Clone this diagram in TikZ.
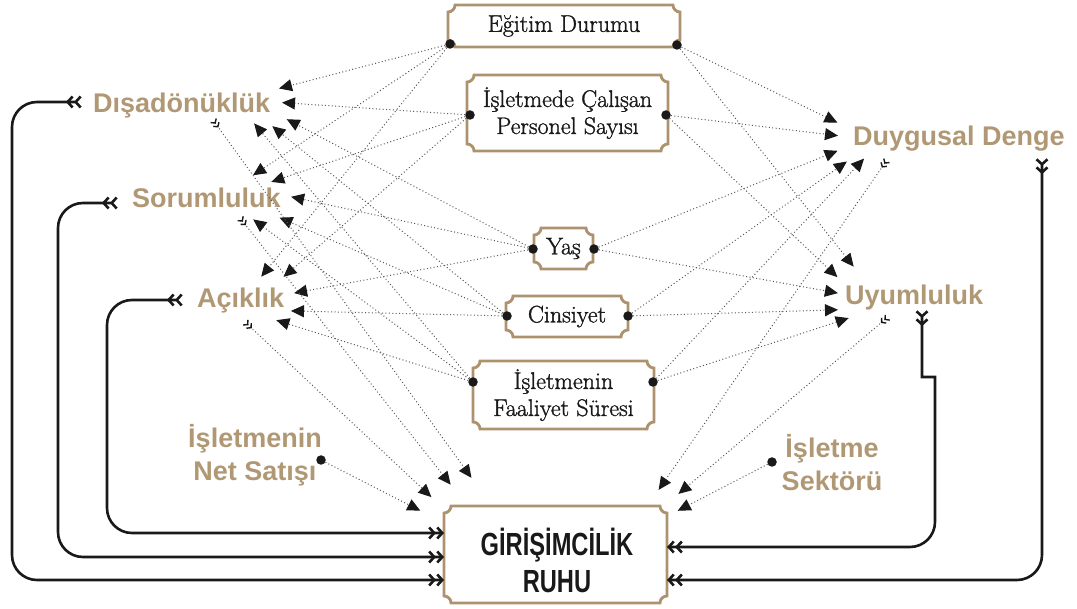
\documentclass[tikz,border=0pt]{standalone}
\usepackage{fontspec}
\newfontfamily\lsans{Liberation Sans}
\newfontfamily\grfont[FakeStretch=0.74]{Liberation Sans}
\newfontfamily\boxfont[FakeBold=1.3]{Latin Modern Roman}
\usetikzlibrary{arrows.meta,calc}
\definecolor{tan}{RGB}{177,152,117}
\definecolor{tanframe}{RGB}{172,146,110}
\definecolor{ink}{RGB}{25,25,25}
\newcommand\scrollframe[1]{%
  \draw[frame] ([yshift=-7pt]#1.north west) arc[start angle=270,end angle=360,radius=7pt]
    -- ([xshift=-7pt]#1.north east) arc[start angle=180,end angle=270,radius=7pt]
    -- ([yshift=7pt]#1.south east) arc[start angle=90,end angle=180,radius=7pt]
    -- ([xshift=7pt]#1.south west) arc[start angle=0,end angle=90,radius=7pt] -- cycle;}
\begin{document}
\begin{tikzpicture}[x=1pt,y=-1pt,
  box/.style={inner sep=0pt, align=center, font=\boxfont\fontsize{24}{27}\selectfont, text=ink},
  frame/.style={draw=tanframe, line width=2.8pt},
  trait/.style={font=\lsans\bfseries\fontsize{27}{33}\selectfont, text=tan, inner sep=0pt, anchor=base west},
  ctrl/.style={font=\lsans\bfseries\fontsize{27}{33}\selectfont, text=tan, inner sep=0pt, align=center},
  dot/.style={circle, fill=ink, inner sep=0pt, minimum size=9.5pt},
  dotarr/.style={draw=black!65, line width=1pt, dash pattern=on 1pt off 2.4pt,
     -{Triangle[length=13pt,width=12pt,color=ink]}},
  tailarr/.style={draw=black!65, line width=1pt, dash pattern=on 1pt off 2.4pt,
     {Straight Barb[reversed,length=3pt,width=7pt,line width=1.4pt,color=ink] Straight Barb[reversed,length=3pt,width=7pt,line width=1.4pt,color=ink]}-{Triangle[length=13pt,width=12pt,color=ink]}},
  solidarr/.style={draw=ink, line width=2.6pt, rounded corners=25pt,
     {Straight Barb[reversed,length=5pt,width=11pt] Straight Barb[reversed,length=5pt,width=11pt]}-{Straight Barb[length=5pt,width=11pt] Straight Barb[length=5pt,width=11pt]}}
]
\useasboundingbox (0,0) rectangle (1077,609);

% boxes
\node[box, minimum width=231.6pt, minimum height=41.6pt] (edu) at (564,26) {Eğitim Durumu};
\node[box, minimum width=200.6pt, minimum height=75.6pt] (per) at (567.5,113) {İşletmede Çalışan\\Personel Sayısı};
\node[box, minimum width=58.6pt, minimum height=40.6pt] (yas) at (563.5,248.5) {Yaş};
\node[box, minimum width=121.6pt, minimum height=40.6pt] (cin) at (567,316.5) {Cinsiyet};
\node[box, minimum width=180.6pt, minimum height=67.6pt] (faa) at (563.5,395) {İşletmenin\\Faaliyet Süresi};
\node[inner sep=0pt, minimum width=222.6pt, minimum height=96.6pt] (gr) at (555.5,554.5) {};
\node[font=\grfont\bfseries\fontsize{32}{37}\selectfont, align=center, text=ink, inner sep=0pt] (grt) at (557,560) {GİRİŞİMCİLİK\\RUHU};
\foreach \b in {edu,per,yas,cin,faa,gr} {\scrollframe{\b}}

% labels
\node[trait] (dis) at (93,113) {Dışadönüklük};
\node[trait] (sor) at (132,208) {Sorumluluk};
\node[trait] (aci) at (197,308) {Açıklık};
\node[trait] (dd) at (853,146) {Duygusal Denge};
\node[trait] (uyu) at (845,305) {Uyumluluk};
\node[ctrl] (net) at (255,455) {İşletmenin\\Net Satışı};
\node[ctrl] (sek) at (832,463) {İşletme\\Sektörü};

% dots
\node[dot] (eduL) at (450,44) {};
\node[dot] (eduR) at (677,45) {};
\node[dot] (perL) at (470,115) {};
\node[dot] (perR) at (666,115) {};
\node[dot] (yasL) at (533,249) {};
\node[dot] (yasR) at (594,249) {};
\node[dot] (cinL) at (507,316) {};
\node[dot] (cinR) at (628,316) {};
\node[dot] (faaL) at (473,382) {};
\node[dot] (faaR) at (653,382) {};
\node[dot] (netD) at (321,460) {};
\node[dot] (sekD) at (772,462) {};

% dotted arrows from demographics to traits
\foreach \s/\x/\y/\n in {
  eduL/279/88.5/d1, perL/282/102.6/d2, yasL/286.7/119.2/d3, cinL/272.3/126.2/d4, faaL/254.1/123.4/d5,
  eduL/253/175.3/s1, perL/271.3/181.9/s2, yasL/291.1/196.8/s3, cinL/279.5/217.6/s4, faaL/253.2/219.4/s5,
  eduL/261.2/276.7/a1, perL/283.5/276.9/a2, yasL/294.1/293.1/a3, cinL/291/310.9/a4, faaL/276.3/320.2/a5,
  eduR/837.4/122.6/e1, perR/838/135.7/e2, yasR/837.6/150.8/e3, cinR/846.9/161.5/e4, faaR/864.1/158.6/e5,
  eduR/853.7/266.7/u1, perR/837.4/277.1/u2, yasR/837.9/293.1/u3, cinR/838/309.8/u4, faaR/848.7/318.1/u5,
  netD/420.3/510.7/g4, sekD/677.7/510.8/g7}
{\coordinate (\n) at (\x,\y); \draw[dotarr] (\s) -- (\n);}

% dotted arrows from traits to GR
\foreach \tx/\ty/\t/\x/\y/\n in {
  213/120/dT/471.5/477.9/g1, 240/218/sT/450.7/484.7/g2, 245/322/aT/431.4/497.1/g3,
  887/160/ddT/658.6/489.9/g5, 888/317/uT/678.4/493.9/g6}
{\coordinate (\t) at (\tx,\ty); \coordinate (\n) at (\x,\y); \draw[tailarr] (\t) -- (\n);}

% solid connectors
\coordinate (dS) at (82,102);
\coordinate (sS) at (118,203);
\coordinate (aS) at (183,300);
\coordinate (ddS) at (1042,158);
\coordinate (uS) at (922,310);
\draw[solidarr] (dS) -- ++(-70,0) |- ([yshift=-25.5pt]gr.west);
\draw[solidarr] (sS) -- ++(-60,0) |- ([yshift=-2.5pt]gr.west);
\draw[solidarr] (aS) -- ++(-76,0) |- ([yshift=21.5pt]gr.west);
\draw[solidarr] (ddS) |- ([yshift=-25.5pt]gr.east);
\draw[solidarr, sharp corners] (uS) -- (922,377) -- (935,377) -- (935,522)
   arc[start angle=0,end angle=-90,radius=25pt] -- ([yshift=7.5pt]gr.east);
\end{tikzpicture}
\end{document}
